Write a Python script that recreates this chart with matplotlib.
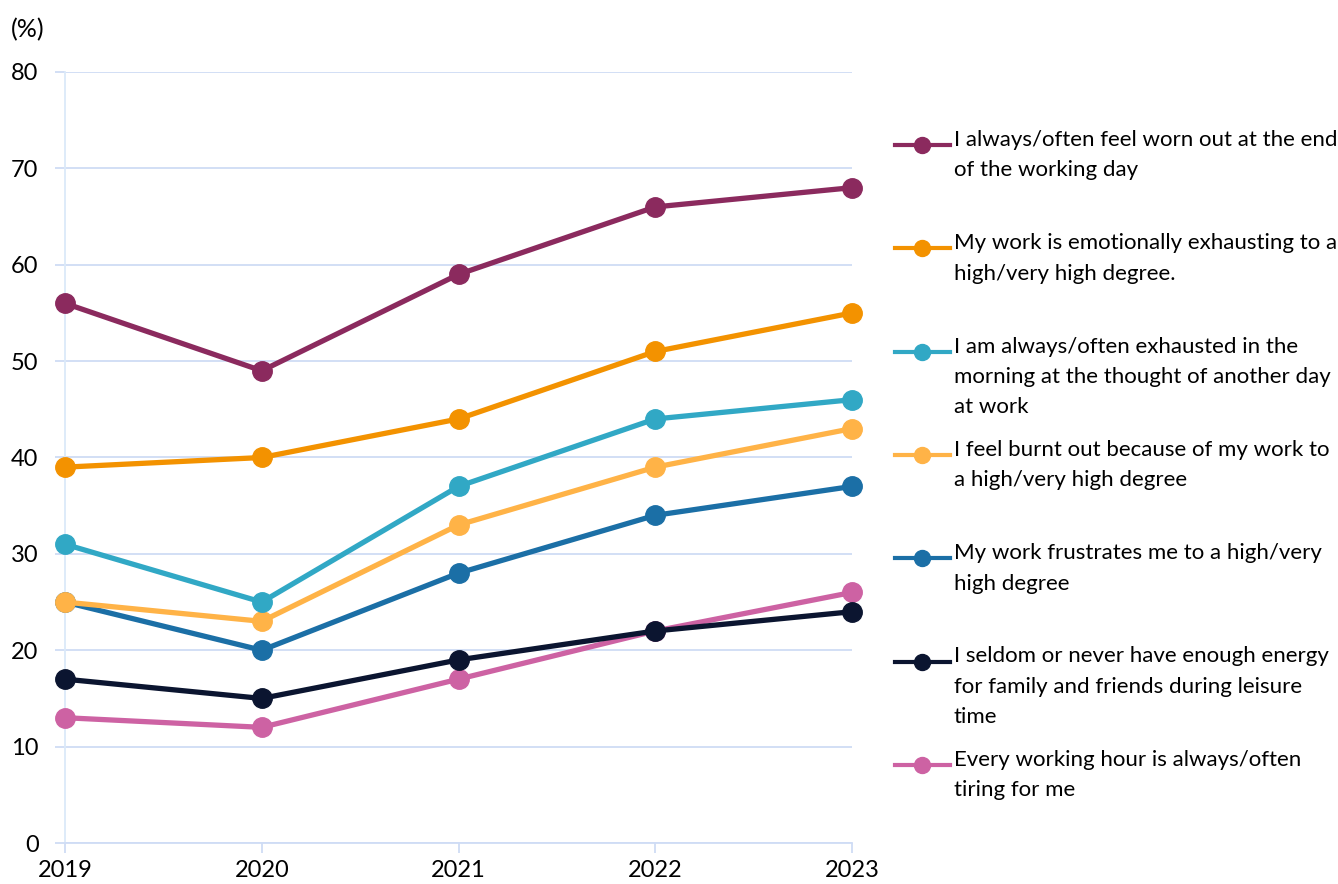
import numpy as np
import matplotlib
matplotlib.use('Agg')
import matplotlib.pyplot as plt
from matplotlib.lines import Line2D

plt.rcParams['font.family'] = ['Lato', 'DejaVu Sans']

# Survey data, share of respondents (%)
years = [2019, 2020, 2021, 2022, 2023]
labels = [
    'I always/often feel worn out at the end\nof the working day',
    'My work is emotionally exhausting to a\nhigh/very high degree.',
    'I am always/often exhausted in the\nmorning at the thought of another day\nat work',
    'I feel burnt out because of my work to\na high/very high degree',
    'My work frustrates me to a high/very\nhigh degree',
    'I seldom or never have enough energy\nfor family and friends during leisure\ntime',
    'Every working hour is always/often\ntiring for me',
]
worn_out = [56, 49, 59, 66, 68]
emotional = [39, 40, 44, 51, 55]
morning = [31, 25, 37, 44, 46]
burnt_out = [25, 23, 33, 39, 43]
frustrates = [25, 20, 28, 34, 37]
no_energy = [17, 15, 19, 22, 24]
every_hour = [13, 12, 17, 22, 26]
series = [worn_out, emotional, morning, burnt_out, frustrates, no_energy, every_hour]
colors = ['#8b2a5e', '#f39200', '#31a8c5', '#ffb347', '#1b6fa6', '#0b1530', '#cd62a3']

W, H = 1338, 884
fig = plt.figure(figsize=(W / 100, H / 100), dpi=100)
ax = fig.add_axes([65 / W, (H - 843) / H, (852 - 65) / W, (843 - 72) / H])

# draw bottom series first so the top lines sit above
for vals, c in reversed(list(zip(series, colors))):
    ax.plot(years, vals, color=c, lw=3.8, marker='o', ms=14, zorder=3,
            clip_on=False)

ax.set_xlim(2019, 2023)
ax.set_ylim(0, 80)
ax.set_yticks(np.arange(0, 81, 10))
ax.set_xticks(years)
ax.grid(axis='y', color='#cfdcf5', lw=1.3, zorder=0)
for s in ['top', 'right']:
    ax.spines[s].set_visible(False)
ax.spines['left'].set_color('#dbe9f9')
ax.spines['left'].set_linewidth(1.3)
ax.spines['bottom'].set_color('#cfdcf5')
ax.spines['bottom'].set_linewidth(1.3)
ax.tick_params(axis='y', length=7, color='#cfdcf5', width=1.3, labelsize=17, pad=12)
ax.tick_params(axis='x', length=7, color='#cfdcf5', width=1.3, labelsize=17, pad=5)

fig.text(11 / W, 1 - 30 / H, '(%)', fontsize=18, va='center', ha='left')

# legend entries placed by hand
for i, (lab, c) in enumerate(zip(labels, colors)):
    y = 1 - (145 + 103.3 * i) / H
    fig.add_artist(Line2D([895 / W, 950 / W], [y, y], color=c, lw=3,
                          transform=fig.transFigure))
    fig.add_artist(Line2D([922 / W], [y], color=c, marker='o', ms=11.5,
                          transform=fig.transFigure))
    fig.text(954 / W, y + 15 / H, lab, fontsize=16, va='top', ha='left',
             linespacing=1.65)

fig.savefig('out.png', dpi=100, facecolor='white')
